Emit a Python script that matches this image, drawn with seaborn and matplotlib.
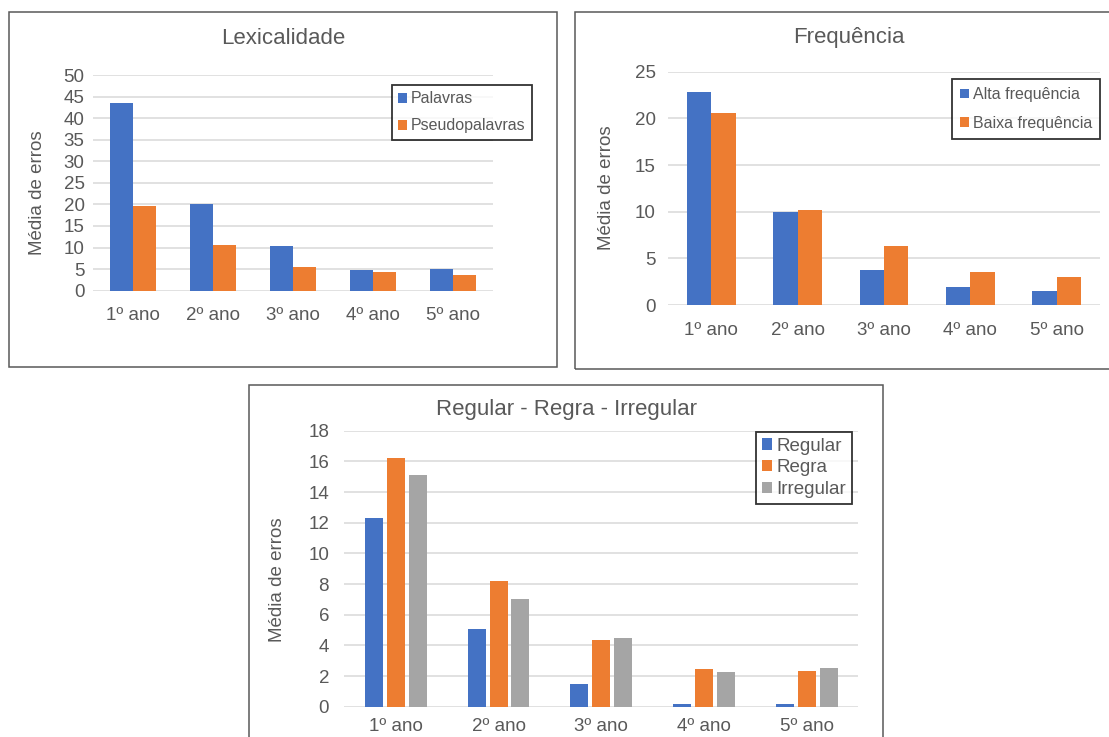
import pandas as pd
import numpy as np
import matplotlib
matplotlib.use('Agg')
import matplotlib.pyplot as plt
import seaborn as sns
from matplotlib.patches import Rectangle

# dados
anos = ['1º ano', '2º ano', '3º ano', '4º ano', '5º ano']
palavras = [43.6, 20.1, 10.4, 4.8, 5.0]
pseudopalavras = [19.6, 10.7, 5.6, 4.3, 3.7]
alta_freq = [22.8, 9.95, 3.7, 1.95, 1.55]
baixa_freq = [20.6, 10.2, 6.3, 3.5, 2.95]
regular = [12.3, 5.05, 1.45, 0.2, 0.2]
regra = [16.2, 8.2, 4.35, 2.45, 2.3]
irregular = [15.1, 7.0, 4.5, 2.25, 2.55]

AZUL, LARANJA, CINZA = '#4472C4', '#ED7D31', '#A5A5A5'
TXT = '#595959'
GRADE = '#D9D9D9'

W, H = 1109, 737

sns.set_style('white')
plt.rcParams['font.family'] = ['Liberation Sans', 'DejaVu Sans']


def long_df(series):
    rows = []
    for nome, vals in series.items():
        for ano, v in zip(anos, vals):
            rows.append({'ano': ano, 'serie': nome, 'valor': v})
    return pd.DataFrame(rows)


def px_axes(fig, left, right, top, bottom):
    return fig.add_axes([left / W, 1 - bottom / H, (right - left) / W, (bottom - top) / H])


def caixa(fig, x0, y0, x1, y1):
    fig.patches.append(Rectangle((x0 / W, 1 - y1 / H), (x1 - x0) / W, (y1 - y0) / H,
                                 transform=fig.transFigure, fill=False,
                                 edgecolor=TXT, linewidth=1.1, zorder=0))


def desenha(ax, df, cores, ymax, step, width, gap, ylabel_xy, ypad, xpad,
            leg_xy, leg_fs, leg_sp, leg_bp, fig):
    sns.barplot(data=df, x='ano', y='valor', hue='serie', palette=cores, ax=ax,
                width=width, gap=gap, saturation=1, linewidth=0, errorbar=None)
    ax.set_ylim(0, ymax)
    ax.set_yticks(np.arange(0, ymax + 0.01, step))
    ax.set_xlim(-0.5, len(anos) - 0.5)
    for s in ax.spines.values():
        s.set_visible(False)
    ax.yaxis.grid(True, color=GRADE, linewidth=1.1)
    ax.set_axisbelow(True)
    ax.tick_params(axis='both', length=0, labelsize=13.5, colors=TXT)
    ax.tick_params(axis='x', pad=xpad)
    ax.tick_params(axis='y', pad=ypad)
    ax.set_xlabel('')
    ax.set_ylabel('Média de erros', fontsize=13.5, color=TXT)
    ax.yaxis.set_label_coords(ylabel_xy[0] / W, 1 - ylabel_xy[1] / H, transform=fig.transFigure)
    handles, labels = ax.get_legend_handles_labels()
    leg = ax.legend(handles, labels, loc='upper right',
                    bbox_to_anchor=(leg_xy[0] / W, 1 - leg_xy[1] / H),
                    bbox_transform=fig.transFigure, fontsize=leg_fs, frameon=True,
                    fancybox=False, edgecolor='black', handlelength=0.55, handleheight=0.55,
                    handletextpad=0.25, labelspacing=leg_sp, borderpad=leg_bp, borderaxespad=0)
    leg.get_frame().set_linewidth(1.3)
    for t in leg.get_texts():
        t.set_color(TXT)


fig = plt.figure(figsize=(W / 100, H / 100), dpi=100)

# caixas dos gráficos
caixa(fig, 8.5, 12, 556.5, 366.5)
caixa(fig, 575, 12, 1120, 368.5)
caixa(fig, 249, 385, 883, 750)

# Lexicalidade
ax1 = px_axes(fig, 93, 493, 75, 290.7)
df1 = long_df({'Palavras': palavras, 'Pseudopalavras': pseudopalavras})
desenha(ax1, df1, [AZUL, LARANJA], 50, 5, 0.575, 0, (46, 193), 6, 12,
        (532, 85), 11.5, 0.75, 0.4, fig)
fig.text(283 / W, 1 - 38 / H, 'Lexicalidade', ha='center', va='center', fontsize=16, color=TXT)

# Frequência
ax2 = px_axes(fig, 668, 1100, 71.7, 305)
df2 = long_df({'Alta frequência': alta_freq, 'Baixa frequência': baixa_freq})
desenha(ax2, df2, [AZUL, LARANJA], 25, 5, 0.565, 0, (615, 188), 9, 12.5,
        (1100, 79), 11.5, 0.85, 0.5, fig)
fig.text(849 / W, 1 - 38 / H, 'Frequência', ha='center', va='center', fontsize=16, color=TXT)

# Regular - Regra - Irregular
ax3 = px_axes(fig, 344.3, 858.4, 430.7, 706.7)
df3 = long_df({'Regular': regular, 'Regra': regra, 'Irregular': irregular})
desenha(ax3, df3, [AZUL, LARANJA, CINZA], 18, 2, 0.64, 0.18, (286, 580), 11, 8,
        (852, 432), 13.5, 0.25, 0.3, fig)
fig.text(566 / W, 1 - 410 / H, 'Regular - Regra - Irregular', ha='center', va='center',
         fontsize=16, color=TXT)

fig.savefig('out.png', dpi=100)
